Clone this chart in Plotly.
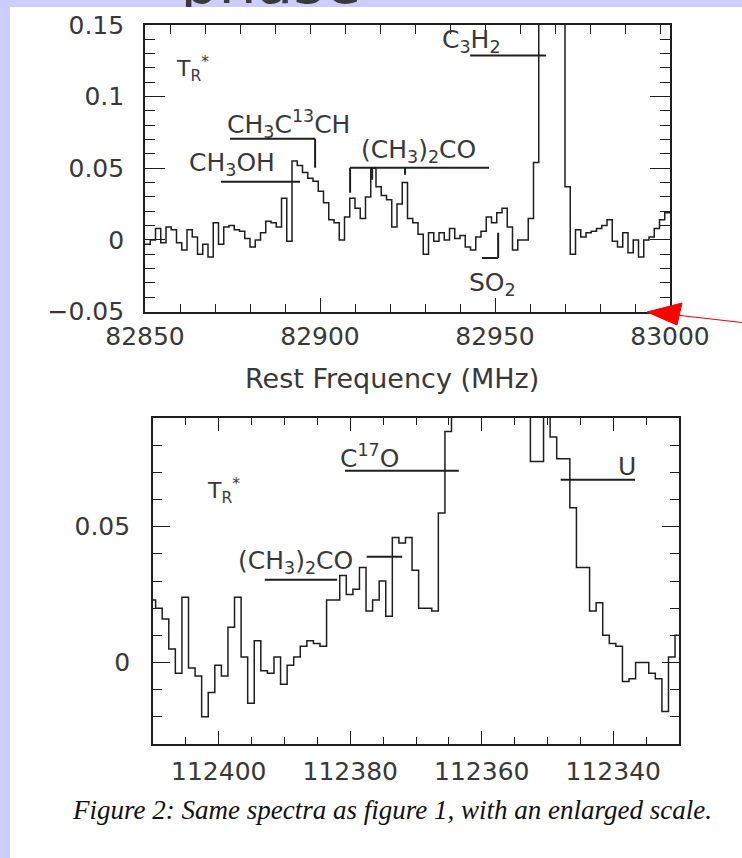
import plotly.graph_objects as go

W, H = 742, 858

# ---------------- spectra (T_R* in K) ----------------
# upper panel: 82850-83000 MHz, 1.5 MHz channels
TOP_START_MHZ = 82850.0
TOP_CHANNEL_MHZ = 1.5
TOP_TR = [
    -0.003, 0.000, 0.008, -0.002, 0.009, 0.007, -0.002, -0.007, 0.007, 0.002,
    -0.010, -0.003, -0.012, 0.012, -0.003, 0.009, 0.010, 0.007, 0.006, 0.001,
    -0.005, 0.000, 0.005, 0.013, 0.012, 0.009, 0.029, -0.001, 0.055, 0.052,
    0.047, 0.043, 0.041, 0.034, 0.026, 0.014, 0.012, 0.000, 0.016, 0.029,
    0.022, 0.015, 0.030, 0.050, 0.037, 0.031, 0.028, 0.009, 0.025, 0.040,
    0.015, 0.012, 0.004, -0.010, 0.005, -0.001, 0.005, 0.000, 0.008, 0.001,
    0.003, -0.005, -0.007, 0.002, 0.006, 0.016, 0.012, 0.019, 0.022, 0.009,
    -0.007, 0.000, 0.000, 0.015, 0.054, 0.175, 0.210, 0.220, 0.190, 0.160,
    0.037, -0.010, 0.007, 0.002, 0.005, 0.006, 0.008, 0.010, 0.014, -0.001,
    -0.005, 0.005, -0.009, 0.000, -0.012, 0.000, 0.002, 0.008, 0.014, 0.019,
]

# lower panel: 112410-112330 MHz (decreasing), 1 MHz channels
BOTTOM_START_MHZ = 112410.6
BOTTOM_CHANNEL_MHZ = -1.0
BOTTOM_TR = [
    0.023, 0.020, 0.016, 0.005, -0.004, 0.024, -0.002, -0.005, -0.020, -0.011,
    -0.001, -0.005, 0.013, 0.024, 0.002, -0.015, 0.008, -0.003, -0.004, 0.002,
    -0.008, -0.001, 0.002, 0.006, 0.008, 0.007, 0.006, 0.023, 0.023, 0.032,
    0.025, 0.027, 0.035, 0.019, 0.023, 0.030, 0.017, 0.046, 0.044, 0.046,
    0.034, 0.020, 0.020, 0.019, 0.055, 0.085, 0.120, 0.160, 0.210, 0.250,
    0.280, 0.290, 0.280, 0.250, 0.210, 0.170, 0.130, 0.100, 0.074, 0.074,
    0.100, 0.083, 0.075, 0.075, 0.057, 0.035, 0.035, 0.019, 0.022, 0.010,
    0.007, 0.006, -0.007, -0.006, 0.000, 0.000, -0.004, -0.006, -0.018, 0.002,
    0.010,
]

# ---------------- axes ----------------
TOP_RANGE_X = [82850, 83000]
TOP_RANGE_Y = [-0.05, 0.15]
TOP_XTICKS = [82850, 82900, 82950, 83000]
TOP_YTICKS = [-0.05, 0, 0.05, 0.1, 0.15]
TOP_YTICKTEXT = ["\u22120.05", "0", "0.05", "0.1", "0.15"]

BOTTOM_RANGE_X = [112410, 112330]
BOTTOM_RANGE_Y = [-0.03, 0.09]
BOTTOM_XTICKS = [112400, 112380, 112360, 112340]
BOTTOM_YTICKS = [0, 0.05]
BOTTOM_YTICKTEXT = ["0", "0.05"]

# ---------------- line identifications ----------------
# (text, frequency MHz, T_R*)
TOP_LABELS = [
    ("T<sub>R</sub><sup>*</sup>", 82863.7, 0.119),
    ("CH<sub>3</sub>C<sup>13</sup>CH", 82890.9, 0.081),
    ("CH<sub>3</sub>OH", 82874.9, 0.053),
    ("(CH<sub>3</sub>)<sub>2</sub>CO", 82928.0, 0.062),
    ("C<sub>3</sub>H<sub>2</sub>", 82943.4, 0.139),
    ("SO<sub>2</sub>", 82949.4, -0.031),
]
# bar segments (f0, T0, f1, T1)
TOP_BARS = [
    (82874.3, 0.0706, 82898.6, 0.0706),
    (82898.6, 0.0706, 82898.6, 0.0503),
    (82871.7, 0.0406, 82894.3, 0.0406),
    (82908.6, 0.0503, 82948.3, 0.0503),
    (82908.6, 0.0503, 82908.6, 0.0329),
    (82914.9, 0.0503, 82914.9, 0.0420),
    (82924.3, 0.0503, 82924.3, 0.0455),
    (82942.9, 0.1287, 82964.6, 0.1287),
    (82950.9, 0.0049, 82950.9, -0.0126),
    (82946.3, -0.0126, 82950.9, -0.0126),
]
BOTTOM_LABELS = [
    ("T<sub>R</sub><sup>*</sup>", 112399.3, 0.063),
    ("C<sup>17</sup>O", 112377.1, 0.076),
    ("(CH<sub>3</sub>)<sub>2</sub>CO", 112388.4, 0.037),
    ("U", 112337.9, 0.072),
]
BOTTOM_BARS = [
    (112380.8, 0.0706, 112363.5, 0.0706),
    (112393.0, 0.0305, 112382.0, 0.0305),
    (112377.5, 0.0389, 112372.1, 0.0389),
    (112348.0, 0.0673, 112336.7, 0.0673),
]

CAPTION = "Figure 2: Same spectra as figure 1, with an enlarged scale."
X_TITLE = "Rest Frequency (MHz)"

# ---------------- styling ----------------
INK = "#1e1e1e"
TEXT_INK = "#383838"
SANS = "DejaVu Sans"
PAGE_BG = "#ccccff"


def pxx(x):
    return x / W


def pxy(y):
    return 1 - y / H


def channel_edges(start, width, n):
    return [start + width * i for i in range(n + 1)]


fig = go.Figure()

top_x = channel_edges(TOP_START_MHZ, TOP_CHANNEL_MHZ, len(TOP_TR))
fig.add_trace(go.Scatter(
    x=top_x, y=TOP_TR + [TOP_TR[-1]], mode="lines", line_shape="hv",
    line=dict(color=INK, width=1.5), xaxis="x", yaxis="y", hoverinfo="skip",
))

bot_x = channel_edges(BOTTOM_START_MHZ, BOTTOM_CHANNEL_MHZ, len(BOTTOM_TR))
fig.add_trace(go.Scatter(
    x=bot_x, y=BOTTOM_TR + [BOTTOM_TR[-1]], mode="lines", line_shape="hv",
    line=dict(color=INK, width=1.5), xaxis="x2", yaxis="y2", hoverinfo="skip",
))

# empty trace to carry the upper frame's top tick scale
fig.add_trace(go.Scatter(x=[], y=[], xaxis="x3", yaxis="y", hoverinfo="skip"))

# torn heading at the very top of the page, clipped to the border strip
fig.add_trace(go.Scatter(
    x=[271], y=[19], mode="text", text=["phase"], textposition="middle center",
    textfont=dict(family=SANS, size=60, color="#3a3a3a"),
    xaxis="x4", yaxis="y4", cliponaxis=True, hoverinfo="skip",
))

tickfont = dict(family=SANS, size=25, color=TEXT_INK)
minor_common = dict(ticks="inside", tickcolor=INK, tickwidth=1.3)

fig.update_layout(
    width=W, height=H, autosize=False,
    margin=dict(l=0, r=0, t=0, b=0, pad=0, autoexpand=False),
    paper_bgcolor=PAGE_BG, plot_bgcolor="rgba(0,0,0,0)",
    showlegend=False,
    xaxis=dict(
        domain=[pxx(145), pxx(670)], anchor="y", range=TOP_RANGE_X, automargin=False,
        tickmode="array", tickvals=TOP_XTICKS, ticktext=[str(v) for v in TOP_XTICKS],
        ticks="inside", ticklen=14, tickwidth=1.4, tickcolor=INK,
        minor=dict(tickmode="linear", tick0=0, dtick=10, ticklen=8, **minor_common),
        showline=True, linecolor=INK, linewidth=1.6, mirror=True,
        showgrid=False, zeroline=False, tickfont=tickfont, ticklabelstandoff=2,
    ),
    yaxis=dict(
        domain=[pxy(311.5), pxy(25)], anchor="x", range=TOP_RANGE_Y, automargin=False,
        tickmode="array", tickvals=TOP_YTICKS, ticktext=TOP_YTICKTEXT,
        ticks="inside", ticklen=20, tickwidth=1.4, tickcolor=INK,
        minor=dict(tickmode="linear", tick0=0, dtick=0.01, ticklen=10, **minor_common),
        showline=True, linecolor=INK, linewidth=1.6, mirror="ticks",
        showgrid=False, zeroline=False, tickfont=tickfont, ticklabelstandoff=14,
    ),
    xaxis3=dict(
        overlaying="x", side="top", anchor="y", automargin=False,
        range=[TOP_RANGE_X[0] + 2.6, TOP_RANGE_X[1] + 2.6],
        tickmode="linear", tick0=0, dtick=10, ticks="inside", ticklen=9,
        tickwidth=1.3, tickcolor=INK, showticklabels=False,
        showline=False, showgrid=False, zeroline=False,
    ),
    xaxis2=dict(
        domain=[pxx(153), pxx(679)], anchor="y2", range=BOTTOM_RANGE_X, automargin=False,
        tickmode="array", tickvals=BOTTOM_XTICKS, ticktext=[str(v) for v in BOTTOM_XTICKS],
        ticks="inside", ticklen=13, tickwidth=1.4, tickcolor=INK,
        minor=dict(tickmode="linear", tick0=0, dtick=5, ticklen=7, **minor_common),
        showline=True, linecolor=INK, linewidth=1.6, mirror="ticks",
        showgrid=False, zeroline=False, tickfont=tickfont, ticklabelstandoff=4,
    ),
    yaxis2=dict(
        domain=[pxy(744), pxy(418)], anchor="x2", range=BOTTOM_RANGE_Y, automargin=False,
        tickmode="array", tickvals=BOTTOM_YTICKS, ticktext=BOTTOM_YTICKTEXT,
        ticks="inside", ticklen=17, tickwidth=1.4, tickcolor=INK,
        minor=dict(tickmode="linear", tick0=0, dtick=0.01, ticklen=9, **minor_common),
        showline=True, linecolor=INK, linewidth=1.6, mirror="ticks",
        showgrid=False, zeroline=False, tickfont=tickfont, ticklabelstandoff=16,
    ),
    xaxis4=dict(domain=[0, 1], anchor="y4", range=[0, W], visible=False,
                fixedrange=True, automargin=False),
    yaxis4=dict(domain=[pxy(7), 1], anchor="x4", range=[0, 7], visible=False,
                fixedrange=True, automargin=False),
)

shapes = [
    # white page on the lavender surround
    dict(type="rect", xref="paper", yref="paper", x0=pxx(10), x1=1.0, y0=0.0, y1=pxy(7),
         fillcolor="white", line=dict(width=0), layer="below"),
]
for f0, t0, f1, t1 in TOP_BARS:
    shapes.append(dict(type="line", xref="x", yref="y", x0=f0, y0=t0, x1=f1, y1=t1,
                       line=dict(color=INK, width=2)))
for f0, t0, f1, t1 in BOTTOM_BARS:
    shapes.append(dict(type="line", xref="x2", yref="y2", x0=f0, y0=t0, x1=f1, y1=t1,
                       line=dict(color=INK, width=2)))

# red pointer at the lower right corner of the upper frame
shapes.append(dict(type="line", xref="paper", yref="paper",
                   x0=pxx(742), y0=pxy(322.5), x1=pxx(676), y1=pxy(315),
                   line=dict(color="#ff0000", width=1.2), layer="above"))
shapes.append(dict(type="path", xref="paper", yref="paper",
                   path=(f"M {pxx(647)},{pxy(312)} L {pxx(682)},{pxy(303)} "
                         f"L {pxx(677)},{pxy(325)} Z"),
                   fillcolor="#ff0000", line=dict(color="#ff0000", width=1), layer="above"))

annotations = []
label_font = dict(family=SANS, size=25, color=TEXT_INK)
for text, f, t in TOP_LABELS:
    annotations.append(dict(text=text, x=f, y=t, xref="x", yref="y", showarrow=False,
                            xanchor="center", yanchor="middle",
                            font=dict(label_font, size=22) if text.startswith("T") else label_font))
for text, f, t in BOTTOM_LABELS:
    annotations.append(dict(text=text, x=f, y=t, xref="x2", yref="y2", showarrow=False,
                            xanchor="center", yanchor="middle",
                            font=dict(label_font, size=22) if text.startswith("T") else label_font))

annotations.append(dict(text=X_TITLE, x=pxx(392), y=pxy(378), xref="paper", yref="paper",
                        showarrow=False, xanchor="center", yanchor="middle",
                        font=dict(family=SANS, size=27, color=TEXT_INK)))
annotations.append(dict(text=CAPTION, x=pxx(392), y=pxy(810), xref="paper", yref="paper",
                        showarrow=False, xanchor="center", yanchor="middle",
                        font=dict(family="Liberation Serif", size=27, color="#111111",
                                  style="italic")))

fig.update_layout(shapes=shapes, annotations=annotations)

fig.write_html("out.html")
